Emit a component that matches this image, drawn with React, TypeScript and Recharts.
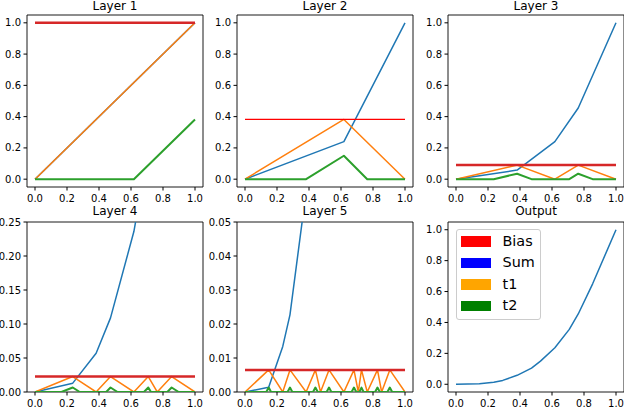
import React from 'react';
import { LineChart, Line, XAxis, YAxis, ReferenceArea, Legend } from 'recharts';

const FONT = '"DejaVu Sans", Verdana, sans-serif';
const BLUE = '#1f77b4';
const ORANGE = '#ff7f0e';
const GREEN = '#2ca02c';
const RED = '#d62728';

// ---- tick labels ----
const X_TICKS = [0, 0.2, 0.4, 0.6, 0.8, 1.0];
const Y_TICKS_UNIT = [0, 0.2, 0.4, 0.6, 0.8, 1.0];
const Y_TICKS_L4 = [0, 0.05, 0.1, 0.15, 0.2, 0.25];
const Y_TICKS_L5 = [0, 0.01, 0.02, 0.03, 0.04, 0.05];

// ---- Layer 1 ----
const L1_BIAS = 1.0;
const L1_SUM_X = [0, 1];
const L1_SUM_Y = [0, 1];
const L1_T1_X = [0, 1];
const L1_T1_Y = [0, 1];
const L1_T2_X = [0, 0.618, 1];
const L1_T2_Y = [0, 0, 0.382];

// ---- Layer 2 ----
const L2_BIAS = 0.382;
const L2_SUM_X = [0, 0.618, 1];
const L2_SUM_Y = [0, 0.24, 1];
const L2_T1_X = [0, 0.618, 1];
const L2_T1_Y = [0, 0.382, 0];
const L2_T2_X = [0, 0.382, 0.618, 0.764, 1];
const L2_T2_Y = [0, 0, 0.15, 0, 0];

// ---- Layer 3 ----
const L3_BIAS = 0.09;
const L3_SUM_X = [0, 0.382, 0.618, 0.764, 1];
const L3_SUM_Y = [0, 0.058, 0.24, 0.455, 1];
const L3_T1_X = [0, 0.382, 0.618, 0.764, 1];
const L3_T1_Y = [0, 0.09, 0, 0.09, 0];
const L3_T2_X = [0, 0.236, 0.382, 0.472, 0.708, 0.764, 0.854, 1];
const L3_T2_Y = [0, 0, 0.035, 0, 0, 0.035, 0, 0];

// ---- Layer 4 ----
const L4_BIAS = 0.0227;
const L4_SUM_X = [0, 0.236, 0.382, 0.472, 0.618, 0.708, 0.764, 0.854, 1];
const L4_SUM_Y = [0, 0.013, 0.057, 0.109, 0.236, 0.355, 0.446, 0.62, 1];
const L4_T1_X = [0, 0.236, 0.382, 0.472, 0.618, 0.708, 0.764, 0.854, 1];
const L4_T1_Y = [0, 0.0227, 0, 0.0227, 0, 0.0227, 0, 0.0227, 0];
const L4_T2_X = [0, 0.165, 0.236, 0.28, 0.445, 0.472, 0.516, 0.681, 0.708, 0.725, 0.827, 0.854, 0.898, 1];
const L4_T2_Y = [0, 0, 0.0066, 0, 0, 0.0066, 0, 0, 0.0066, 0, 0, 0.0066, 0, 0];

// ---- Layer 5 ----
const L5_BIAS = 0.0065;
const L5_SUM_X = [0, 0.148, 0.236, 0.281, 0.382, 0.44, 0.525, 0.618, 1];
const L5_SUM_Y = [0, 0.0014, 0.0134, 0.0227, 0.059, 0.085, 0.145, 0.236, 1];
const L5_T1_X = [0, 0.148, 0.236, 0.281, 0.382, 0.44, 0.472, 0.525, 0.618, 0.681, 0.708, 0.728, 0.764, 0.828, 0.854, 0.905, 1];
const L5_T1_Y = [0, 0.0065, 0, 0.0065, 0, 0.0065, 0, 0.0065, 0, 0.0065, 0, 0.0065, 0, 0.0065, 0, 0.0065, 0];
const L5_T2_X = [0, 0.133, 0.148, 0.163, 0.266, 0.281, 0.296, 0.425, 0.44, 0.455, 0.51, 0.525, 0.54, 0.666, 0.681, 0.696, 0.715, 0.728, 0.741, 0.813, 0.828, 0.843, 0.89, 0.905, 0.92, 1];
const L5_T2_Y = [0, 0, 0.0013, 0, 0, 0.0013, 0, 0, 0.0013, 0, 0, 0.0013, 0, 0, 0.0013, 0, 0, 0.0013, 0, 0, 0.0013, 0, 0, 0.0013, 0, 0];

// ---- Output ----
const OUT_X = [0, 0.146, 0.236, 0.292, 0.382, 0.472, 0.528, 0.618, 0.708, 0.764, 0.854, 1];
const OUT_Y = [0, 0.003, 0.013, 0.025, 0.058, 0.105, 0.15, 0.236, 0.355, 0.455, 0.65, 1];

// ---- legend ----
const LEGEND_LABELS = ['Bias', 'Sum', 't1', 't2'];
const LEGEND_COLORS = ['#ff0000', '#0000ff', '#ffa500', '#008000'];

const zip = (xs: number[], ys: number[]) => xs.map((x, i) => ({ x, y: ys[i] }));
const flat = (v: number) => zip([0, 1], [v, v]);

type Series = { data: { x: number; y: number }[]; color: string; width: number };

type PanelProps = {
  title: string;
  chartLeft: number;
  chartTop: number;
  fx: number;
  fy: number;
  fw: number;
  fh: number;
  yDomain: [number, number];
  yTicks: number[];
  yDigits: number;
  series: Series[];
  legend?: boolean;
};

const tickStyle = { fill: '#000', fontSize: 10, fontFamily: FONT };

function Panel(p: PanelProps) {
  const yAxisWidth = p.fx - p.chartLeft;
  const xAxisHeight = 20;
  const width = yAxisWidth + p.fw + 3;
  const height = p.fy - p.chartTop + p.fh + xAxisHeight;
  return (
    <>
      <div
        style={{
          position: 'absolute',
          left: p.fx,
          width: p.fw,
          top: p.chartTop === 0 ? -1 : 204,
          textAlign: 'center',
          fontFamily: FONT,
          fontSize: 12,
          lineHeight: '14px',
          color: '#000',
        }}
      >
        {p.title}
      </div>
      <div style={{ position: 'absolute', left: p.chartLeft, top: p.chartTop }}>
        <LineChart
          width={width}
          height={height}
          margin={{ top: p.fy - p.chartTop, right: 3, bottom: 0, left: 0 }}
        >
          {p.series.map((s, i) => (
            <Line
              key={i}
              data={s.data}
              dataKey="y"
              type="linear"
              stroke={s.color}
              strokeWidth={s.width}
              dot={false}
              activeDot={false}
              isAnimationActive={false}
              strokeLinejoin="round"
            />
          ))}
          <XAxis
            type="number"
            dataKey="x"
            domain={[-0.05, 1.05]}
            allowDataOverflow
            ticks={X_TICKS}
            interval={0}
            height={xAxisHeight}
            tickSize={3.5}
            tickMargin={4}
            axisLine={false}
            stroke="#000"
            tick={tickStyle}
            tickFormatter={(v: number) => v.toFixed(1)}
          />
          <YAxis
            type="number"
            domain={p.yDomain}
            allowDataOverflow
            ticks={p.yTicks}
            interval={0}
            width={yAxisWidth}
            tickSize={3.5}
            tickMargin={2.5}
            axisLine={false}
            stroke="#000"
            tick={tickStyle}
            tickFormatter={(v: number) => v.toFixed(p.yDigits)}
          />
          <ReferenceArea
            x1={-0.05}
            x2={1.05}
            y1={p.yDomain[0]}
            y2={p.yDomain[1]}
            fill="none"
            fillOpacity={0}
            stroke="#000"
            strokeWidth={0.9}
            ifOverflow="visible"
          />
          {p.legend && (
            <Legend
              layout="vertical"
              align="center"
              verticalAlign="middle"
              wrapperStyle={{ left: 456 - p.chartLeft, top: 229 - p.chartTop, width: 'auto' }}
              content={() => (
                <div
                  style={{
                    border: '1px solid #cccccc',
                    borderRadius: 3,
                    background: 'rgba(255,255,255,0.8)',
                    padding: '1px 5px 2px 4px',
                    fontFamily: FONT,
                    fontSize: 14.4,
                    color: '#000',
                  }}
                >
                  {LEGEND_LABELS.map((label, i) => (
                    <div
                      key={label}
                      style={{ display: 'flex', alignItems: 'center', height: 21.4 }}
                    >
                      <div
                        style={{
                          width: 30,
                          height: 10.5,
                          background: LEGEND_COLORS[i],
                          marginRight: 11.5,
                        }}
                      />
                      <span style={{ lineHeight: '21.4px', whiteSpace: 'nowrap' }}>{label}</span>
                    </div>
                  ))}
                </div>
              )}
            />
          )}
        </LineChart>
      </div>
    </>
  );
}

const layerSeries = (
  sum: { x: number; y: number }[],
  t1: { x: number; y: number }[],
  t2: { x: number; y: number }[],
  bias: number,
  biasColor = RED,
  biasWidth = 2.5
): Series[] => [
  { data: sum, color: BLUE, width: 1.5 },
  { data: t1, color: ORANGE, width: 1.5 },
  { data: t2, color: GREEN, width: 2 },
  { data: flat(bias), color: biasColor, width: biasWidth },
];

export default function App() {
  const ROW1 = { chartTop: 0, fy: 15, fh: 172 };
  const ROW2 = { chartTop: 200, fy: 222, fh: 170 };
  const COL1 = { chartLeft: 0, fx: 27, fw: 176 };
  const COL2 = { chartLeft: 205, fx: 237, fw: 176 };
  const COL3 = { chartLeft: 414, fx: 448, fw: 176 };
  return (
    <div
      style={{
        position: 'fixed',
        left: 0,
        top: 0,
        width: 624,
        height: 408,
        overflow: 'hidden',
        background: '#fff',
      }}
    >
      <Panel
        title="Layer 1"
        {...ROW1}
        {...COL1}
        yDomain={[-0.05, 1.05]}
        yTicks={Y_TICKS_UNIT}
        yDigits={1}
        series={layerSeries(zip(L1_SUM_X, L1_SUM_Y), zip(L1_T1_X, L1_T1_Y), zip(L1_T2_X, L1_T2_Y), L1_BIAS)}
      />
      <Panel
        title="Layer 2"
        {...ROW1}
        {...COL2}
        yDomain={[-0.05, 1.05]}
        yTicks={Y_TICKS_UNIT}
        yDigits={1}
        series={layerSeries(
          zip(L2_SUM_X, L2_SUM_Y),
          zip(L2_T1_X, L2_T1_Y),
          zip(L2_T2_X, L2_T2_Y),
          L2_BIAS,
          '#ff0000',
          1.3
        )}
      />
      <Panel
        title="Layer 3"
        {...ROW1}
        {...COL3}
        yDomain={[-0.05, 1.05]}
        yTicks={Y_TICKS_UNIT}
        yDigits={1}
        series={layerSeries(zip(L3_SUM_X, L3_SUM_Y), zip(L3_T1_X, L3_T1_Y), zip(L3_T2_X, L3_T2_Y), L3_BIAS)}
      />
      <Panel
        title="Layer 4"
        {...ROW2}
        {...COL1}
        yDomain={[0, 0.25]}
        yTicks={Y_TICKS_L4}
        yDigits={2}
        series={layerSeries(zip(L4_SUM_X, L4_SUM_Y), zip(L4_T1_X, L4_T1_Y), zip(L4_T2_X, L4_T2_Y), L4_BIAS)}
      />
      <Panel
        title="Layer 5"
        {...ROW2}
        {...COL2}
        yDomain={[0, 0.05]}
        yTicks={Y_TICKS_L5}
        yDigits={2}
        series={layerSeries(zip(L5_SUM_X, L5_SUM_Y), zip(L5_T1_X, L5_T1_Y), zip(L5_T2_X, L5_T2_Y), L5_BIAS)}
      />
      <Panel
        title="Output"
        {...ROW2}
        {...COL3}
        yDomain={[-0.05, 1.05]}
        yTicks={Y_TICKS_UNIT}
        yDigits={1}
        legend
        series={[{ data: zip(OUT_X, OUT_Y), color: BLUE, width: 1.5 }]}
      />
    </div>
  );
}
